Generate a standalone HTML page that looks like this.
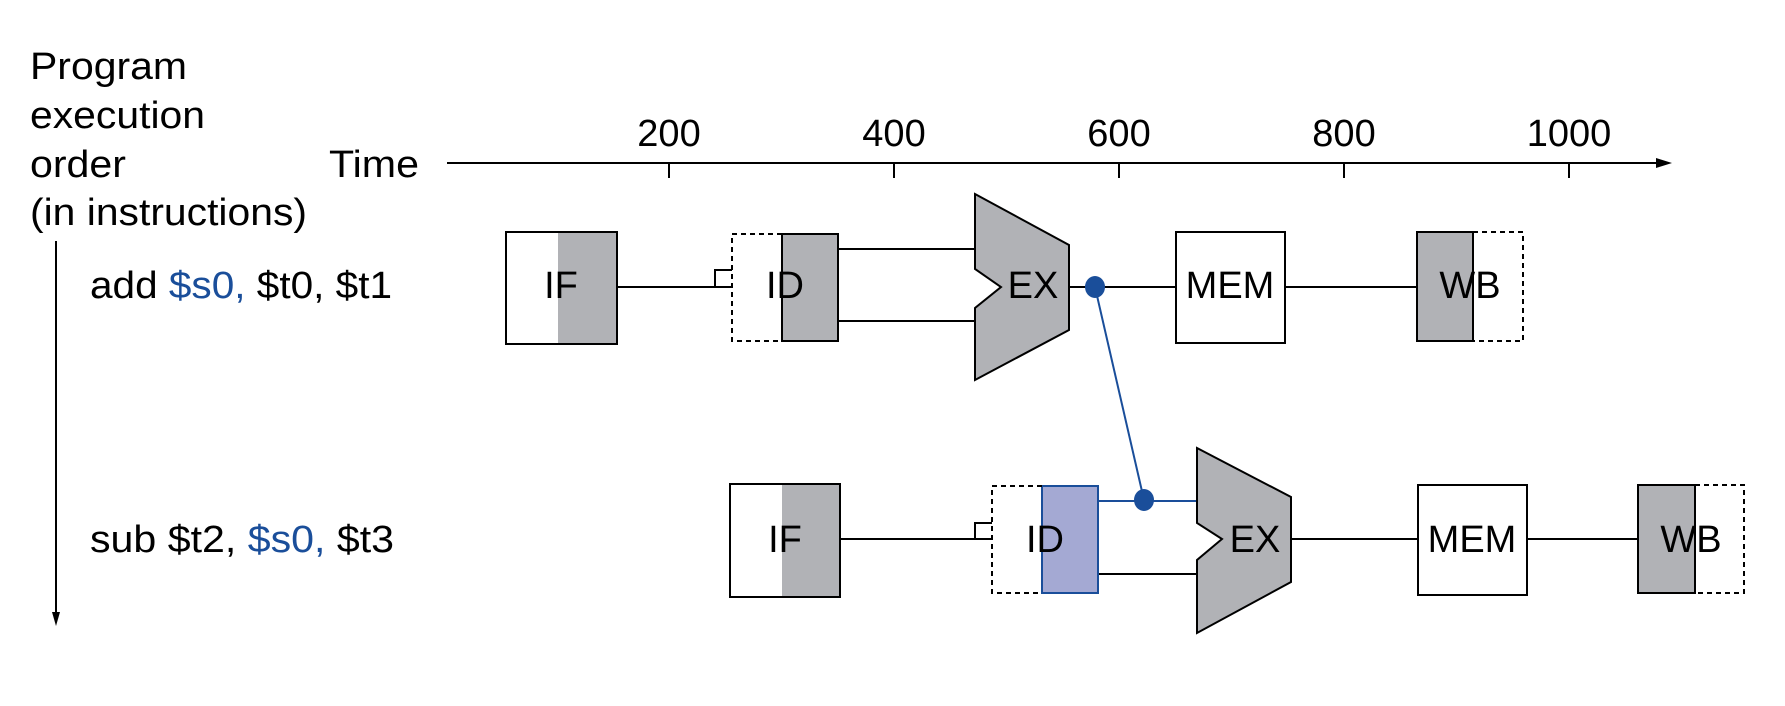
<!DOCTYPE html>
<html><head><meta charset="utf-8"><style>html,body{margin:0;padding:0;background:#fff;}svg{display:block}</style></head>
<body>
<svg width="1785" height="706" viewBox="0 0 1785 706" xmlns="http://www.w3.org/2000/svg" font-family="Liberation Sans, Arial, sans-serif" font-size="38">
<g fill="#000">
<text x="30" y="79" textLength="157" lengthAdjust="spacingAndGlyphs">Program</text>
<text x="30" y="128" textLength="175" lengthAdjust="spacingAndGlyphs">execution</text>
<text x="30" y="177" textLength="96" lengthAdjust="spacingAndGlyphs">order</text>
<text x="30" y="225" textLength="277" lengthAdjust="spacingAndGlyphs">(in instructions)</text>
<text x="329" y="177" textLength="90" lengthAdjust="spacingAndGlyphs">Time</text>
<text x="669" y="146" text-anchor="middle">200</text>
<text x="894" y="146" text-anchor="middle">400</text>
<text x="1119" y="146" text-anchor="middle">600</text>
<text x="1344" y="146" text-anchor="middle">800</text>
<text x="1569" y="146" text-anchor="middle">1000</text>
<text x="90" y="298" textLength="302" lengthAdjust="spacingAndGlyphs">add <tspan fill="#1a4e9a">$s0,</tspan> $t0, $t1</text>
<text x="90" y="552" textLength="304" lengthAdjust="spacingAndGlyphs">sub $t2, <tspan fill="#1a4e9a">$s0,</tspan> $t3</text>
</g>
<g stroke="#000" stroke-width="2" fill="none">
<line x1="447" y1="163" x2="1660" y2="163"/>
<line x1="669" y1="163" x2="669" y2="178"/><line x1="894" y1="163" x2="894" y2="178"/>
<line x1="1119" y1="163" x2="1119" y2="178"/><line x1="1344" y1="163" x2="1344" y2="178"/>
<line x1="1569" y1="163" x2="1569" y2="178"/>
<line x1="56" y1="241" x2="56" y2="615"/>
</g>
<polygon points="1672,163 1656,158 1656,168" fill="#000"/>
<polygon points="56,626 52,612 60,612" fill="#000"/>

<!-- Row 1 -->
<rect x="558" y="232" width="59" height="112" fill="#b1b2b6"/>
<rect x="506" y="232" width="111" height="112" fill="none" stroke="#000" stroke-width="2"/>
<text x="561" y="298" text-anchor="middle">IF</text>
<g stroke="#000" stroke-width="2" fill="none">
<line x1="617" y1="287" x2="732" y2="287"/>
<polyline points="715,287 715,270 732,270"/>
<line x1="838" y1="249" x2="975" y2="249"/>
<line x1="838" y1="321" x2="975" y2="321"/>
<line x1="1069" y1="287" x2="1176" y2="287"/>
<line x1="1285" y1="287" x2="1417" y2="287"/>
</g>
<rect x="782" y="234" width="56" height="107" fill="#b1b2b6" stroke="#000" stroke-width="2"/>
<polyline points="782,234 732,234 732,341 782,341" fill="none" stroke="#000" stroke-width="2" stroke-dasharray="5,4"/>
<text x="785" y="298" text-anchor="middle">ID</text>
<polygon points="975,194 1069,245 1069,330 975,380 975,308 1001,287 975,269" fill="#b1b2b6" stroke="#000" stroke-width="2"/>
<text x="1033" y="298" text-anchor="middle">EX</text>
<rect x="1176" y="232" width="109" height="111" fill="#fff" stroke="#000" stroke-width="2"/>
<text x="1230" y="298" text-anchor="middle">MEM</text>
<rect x="1417" y="232" width="56" height="109" fill="#b1b2b6" stroke="#000" stroke-width="2"/>
<polyline points="1473,232 1523,232 1523,341 1473,341" fill="none" stroke="#000" stroke-width="2" stroke-dasharray="5,4"/>
<text x="1470" y="298" text-anchor="middle">WB</text>

<!-- Row 2 -->
<rect x="782" y="484" width="58" height="113" fill="#b1b2b6"/>
<rect x="730" y="484" width="110" height="113" fill="none" stroke="#000" stroke-width="2"/>
<text x="785" y="552" text-anchor="middle">IF</text>
<g stroke="#000" stroke-width="2" fill="none">
<line x1="840" y1="539" x2="992" y2="539"/>
<polyline points="975,539 975,523 992,523"/>
<line x1="1098" y1="574" x2="1197" y2="574"/>
<line x1="1291" y1="539" x2="1418" y2="539"/>
<line x1="1527" y1="539" x2="1638" y2="539"/>
</g>
<rect x="1042" y="486" width="56" height="107" fill="#a4a9d3" stroke="#1a4e9a" stroke-width="2"/>
<polyline points="1042,486 992,486 992,593 1042,593" fill="none" stroke="#000" stroke-width="2" stroke-dasharray="5,4"/>
<text x="1045" y="552" text-anchor="middle">ID</text>
<line x1="1098" y1="501" x2="1197" y2="501" stroke="#1a4e9a" stroke-width="2"/>
<polygon points="1197,448 1291,497 1291,582 1197,633 1197,560 1222,539 1197,523" fill="#b1b2b6" stroke="#000" stroke-width="2"/>
<text x="1255" y="552" text-anchor="middle">EX</text>
<rect x="1418" y="485" width="109" height="110" fill="#fff" stroke="#000" stroke-width="2"/>
<text x="1472" y="552" text-anchor="middle">MEM</text>
<rect x="1638" y="485" width="57" height="108" fill="#b1b2b6" stroke="#000" stroke-width="2"/>
<polyline points="1695,485 1744,485 1744,593 1695,593" fill="none" stroke="#000" stroke-width="2" stroke-dasharray="5,4"/>
<text x="1691" y="552" text-anchor="middle">WB</text>

<!-- forwarding -->
<line x1="1095" y1="287" x2="1144" y2="500" stroke="#1a4e9a" stroke-width="2"/>
<ellipse cx="1095" cy="287" rx="10" ry="11" fill="#1a4e9a"/>
<ellipse cx="1144" cy="500" rx="10" ry="11" fill="#1a4e9a"/>
</svg>
</body></html>
